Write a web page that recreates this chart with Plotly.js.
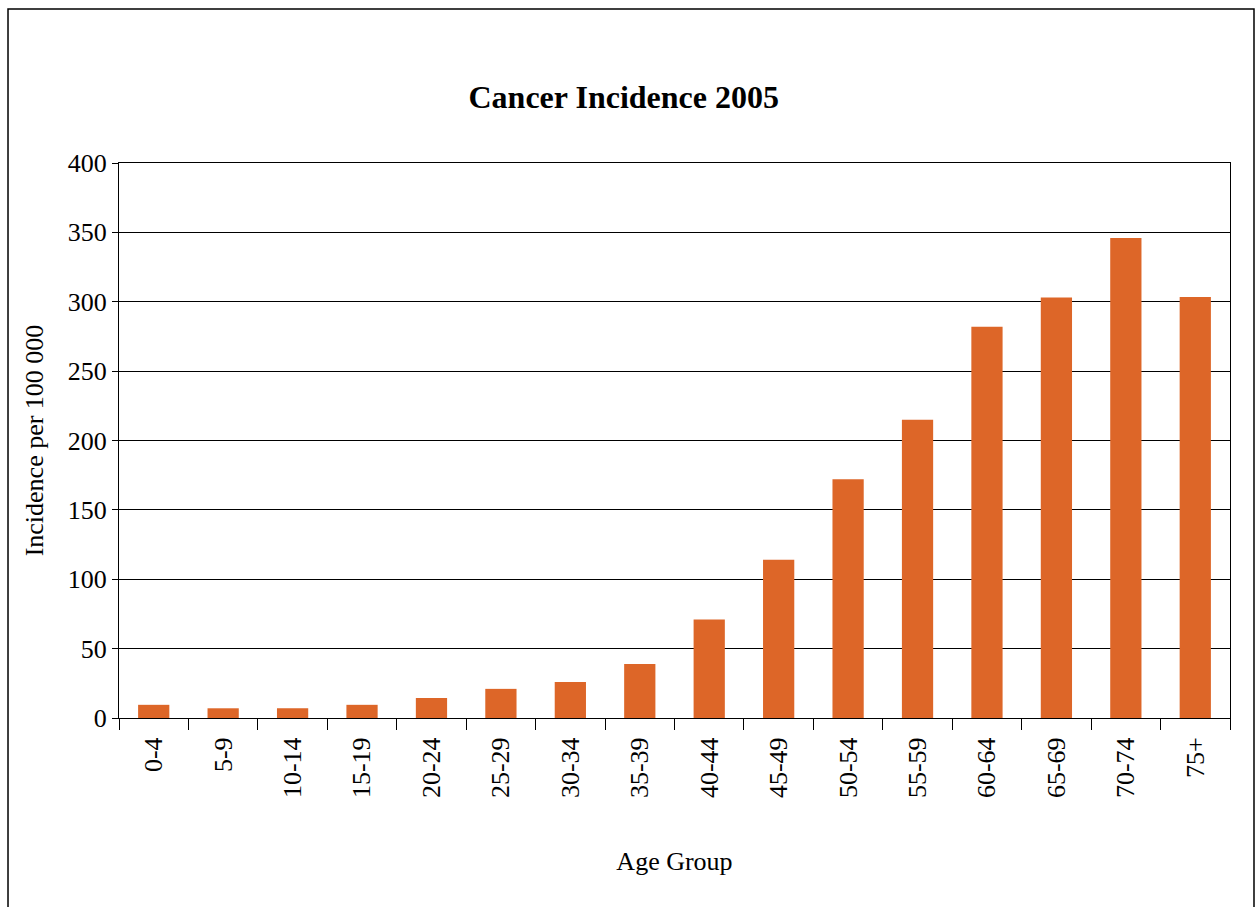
<!DOCTYPE html>
<html>
<head>
<meta charset="utf-8">
<script src="https://cdn.plot.ly/plotly-3.0.1.min.js"></script>
<style>html,body{margin:0;padding:0;background:#fff;}#chart{width:1255px;height:907px;}</style>
</head>
<body>
<div id="chart"></div>
<script>
const ageGroups = ["0-4","5-9","10-14","15-19","20-24","25-29","30-34","35-39","40-44","45-49","50-54","55-59","60-64","65-69","70-74","75+"];
const incidence = [9.5, 7, 7, 9.5, 14.5, 21, 26, 39, 71, 114, 172, 215, 282, 303, 346, 303.5];
const yTicks = [0, 50, 100, 150, 200, 250, 300, 350, 400];

const font = "Liberation Serif, Times New Roman, serif";
const trace = {
  type: "bar",
  x: ageGroups,
  y: incidence,
  marker: {color: "#DD6628", line: {width: 0}},
  width: 0.45,
  hoverinfo: "x+y"
};
const layout = {
  width: 1255, height: 907,
  margin: {l: 119, r: 25, t: 163, b: 189},
  paper_bgcolor: "#fff", plot_bgcolor: "#fff",
  font: {family: font, color: "#000", size: 26},
  title: {text: "<b>Cancer Incidence 2005</b>", font: {family: font, size: 32, color: "#000"}, x: 0.497, xanchor: "center", y: 0.893, yanchor: "middle"},
  showlegend: false,
  xaxis: {
    type: "category",
    tickson: "boundaries",
    ticks: "outside", ticklen: 11, tickcolor: "#000", tickwidth: 1,
    tickangle: -90,
    ticklabelstandoff: 8,
    tickfont: {family: font, size: 26, color: "#000"},
    showline: true, linecolor: "#000", linewidth: 1, mirror: true,
    showgrid: false,
    title: {text: "Age Group", font: {family: font, size: 26, color: "#000"}, standoff: 54}
  },
  yaxis: {
    range: [0, 400],
    tickvals: yTicks,
    ticks: "outside", ticklen: 6, tickcolor: "#000", tickwidth: 1,
    tickfont: {family: font, size: 26, color: "#000"},
    showline: true, linecolor: "#000", linewidth: 1, mirror: true,
    showgrid: true, gridcolor: "#000", gridwidth: 1,
    zeroline: false,
    title: {text: "Incidence per 100 000", font: {family: font, size: 26, color: "#000"}, standoff: 16}
  },
  shapes: [{
    type: "rect", xref: "paper", yref: "paper",
    x0: -0.0999, x1: 1.0216, y0: -0.5, y1: 1.2775,
    line: {color: "#000", width: 1.5}, fillcolor: "rgba(0,0,0,0)", layer: "below"
  }]
};
Plotly.newPlot("chart", [trace], layout, {displayModeBar: false, staticPlot: true});
</script>
</body>
</html>
